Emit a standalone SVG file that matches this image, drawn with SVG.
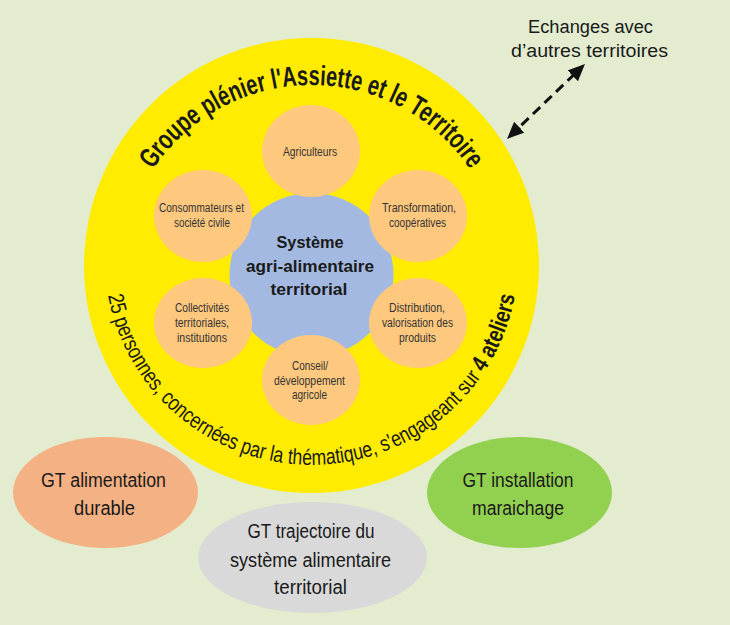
<svg xmlns="http://www.w3.org/2000/svg" width="730" height="625" viewBox="0 0 730 625">
<defs>
<style>
.bg{fill:#E3ECCF}
.plen{fill:#FFEC00}
.core{fill:#A3B9E1}
.actor{fill:#FEC87E}
.t{font-family:"Liberation Sans Narrow","Liberation Sans",Arial,sans-serif;fill:#1a1a1a;text-anchor:middle}
.sm{font-size:12px;fill:#333333}
.gt{font-size:20px}
.b{font-weight:bold}
.arrow{stroke:#111;stroke-width:3;stroke-dasharray:10 6;fill:none}
</style>
<marker id="ah" markerUnits="userSpaceOnUse" viewBox="0 0 17 15" refX="13" refY="7.5" markerWidth="17" markerHeight="15" orient="auto-start-reverse">
<path d="M0,0 L17,7.5 L0,15 z" fill="#111"/>
</marker>
<path id="arcTop" d="M146.1,180.5 A191,191 0 0 1 476.9,180.5"/>
<path id="arcBot" d="M105.3,276 A207,207 0 0 0 517.7,276"/>
</defs>

<rect class="bg" x="0" y="0" width="730" height="625"/>

<g id="plenary">
<circle class="plen" cx="311.5" cy="265.5" r="227.5"/>
<text class="t b" font-size="28"><textPath href="#arcTop" startOffset="50%" textLength="374" lengthAdjust="spacingAndGlyphs">Groupe plénier l'Assiette et le Territoire</textPath></text>
<text class="t" font-size="22"><textPath href="#arcBot" startOffset="50%" textLength="574" lengthAdjust="spacingAndGlyphs">25 personnes, concernées par la thématique, s'engageant sur <tspan class="b" font-size="24">4 ateliers</tspan></textPath></text>
</g>

<g id="core">
<circle class="core" cx="311.5" cy="275" r="82"/>
<text class="t b" font-size="17" x="310" y="248" textLength="67" lengthAdjust="spacingAndGlyphs">Système</text>
<text class="t b" font-size="17" x="310" y="272" textLength="128" lengthAdjust="spacingAndGlyphs">agri-alimentaire</text>
<text class="t b" font-size="17" x="309" y="295" textLength="77" lengthAdjust="spacingAndGlyphs">territorial</text>
</g>

<g id="agriculteurs">
<ellipse class="actor" cx="311" cy="151" rx="49" ry="46"/>
<text class="t sm" x="310" y="156" textLength="54" lengthAdjust="spacingAndGlyphs">Agriculteurs</text>
</g>

<g id="consommateurs">
<ellipse class="actor" cx="203" cy="216" rx="49" ry="46"/>
<text class="t sm" x="201.5" y="212" textLength="85" lengthAdjust="spacingAndGlyphs">Consommateurs et</text>
<text class="t sm" x="202" y="227" textLength="56" lengthAdjust="spacingAndGlyphs">société civile</text>
</g>

<g id="transformation">
<ellipse class="actor" cx="418" cy="216" rx="49" ry="46"/>
<text class="t sm" x="419" y="212" textLength="74" lengthAdjust="spacingAndGlyphs">Transformation,</text>
<text class="t sm" x="417.5" y="227" textLength="57" lengthAdjust="spacingAndGlyphs">coopératives</text>
</g>

<g id="collectivites">
<ellipse class="actor" cx="203" cy="323" rx="49" ry="45"/>
<text class="t sm" x="202" y="312" textLength="54" lengthAdjust="spacingAndGlyphs">Collectivités</text>
<text class="t sm" x="202" y="327" textLength="54" lengthAdjust="spacingAndGlyphs">territoriales,</text>
<text class="t sm" x="202" y="342" textLength="50" lengthAdjust="spacingAndGlyphs">institutions</text>
</g>

<g id="distribution">
<ellipse class="actor" cx="418" cy="323" rx="49" ry="45"/>
<text class="t sm" x="417" y="312" textLength="56" lengthAdjust="spacingAndGlyphs">Distribution,</text>
<text class="t sm" x="417.5" y="327" textLength="71" lengthAdjust="spacingAndGlyphs">valorisation des</text>
<text class="t sm" x="417.5" y="342" textLength="37" lengthAdjust="spacingAndGlyphs">produits</text>
</g>

<g id="conseil">
<ellipse class="actor" cx="311" cy="380" rx="49" ry="45"/>
<text class="t sm" x="310" y="370" textLength="36" lengthAdjust="spacingAndGlyphs">Conseil/</text>
<text class="t sm" x="309.5" y="385" textLength="71" lengthAdjust="spacingAndGlyphs">développement</text>
<text class="t sm" x="309.5" y="399" textLength="35" lengthAdjust="spacingAndGlyphs">agricole</text>
</g>

<g id="gt-alimentation">
<ellipse cx="105.5" cy="492.5" rx="92.5" ry="55.5" fill="#F4B183"/>
<text class="t gt" x="103.5" y="487" textLength="125" lengthAdjust="spacingAndGlyphs">GT alimentation</text>
<text class="t gt" x="104.5" y="515" textLength="61" lengthAdjust="spacingAndGlyphs">durable</text>
</g>

<g id="gt-trajectoire">
<ellipse cx="312.5" cy="557.5" rx="114.5" ry="55.5" fill="#D9D9D9"/>
<text class="t gt" x="311" y="538" textLength="127" lengthAdjust="spacingAndGlyphs">GT trajectoire du</text>
<text class="t gt" x="310.5" y="567" textLength="161" lengthAdjust="spacingAndGlyphs">système alimentaire</text>
<text class="t gt" x="310.5" y="594" textLength="73" lengthAdjust="spacingAndGlyphs">territorial</text>
</g>

<g id="gt-installation">
<ellipse cx="519.5" cy="492.5" rx="92.5" ry="55.5" fill="#92D050"/>
<text class="t gt" x="518" y="487" textLength="111" lengthAdjust="spacingAndGlyphs">GT installation</text>
<text class="t gt" x="518" y="515" textLength="92" lengthAdjust="spacingAndGlyphs">maraichage</text>
</g>

<g id="echanges">
<text class="t" font-family="Liberation Sans, Arial, sans-serif" font-size="18" x="590.5" y="33" textLength="125" lengthAdjust="spacingAndGlyphs">Echanges avec</text>
<text class="t" font-family="Liberation Sans, Arial, sans-serif" font-size="18" x="589.5" y="57" textLength="157" lengthAdjust="spacingAndGlyphs">d’autres territoires</text>
</g>

<g id="connectors">
<line class="arrow" x1="509.9" y1="136.2" x2="582.1" y2="66.8" marker-start="url(#ah)" marker-end="url(#ah)"/>
</g>
</svg>
